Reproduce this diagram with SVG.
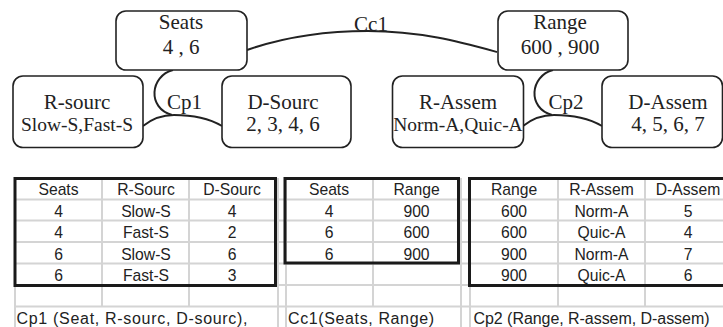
<svg xmlns="http://www.w3.org/2000/svg" width="723" height="327" viewBox="0 0 723 327">
<style>
.box{fill:#fff;stroke:#222;stroke-width:1.6}
.nt{font-family:"Liberation Serif","Times New Roman",serif;font-size:21px;fill:#222;text-anchor:middle}
.ns{font-size:19.5px}
.conn{fill:none;stroke:#222;stroke-width:2}
.grid{stroke:#d4d4d4;stroke-width:2;fill:none}
.bord{stroke:#1a1a1a;stroke-width:3;fill:none}
.tt{font-family:"Liberation Sans",Arial,sans-serif;font-size:15.7px;fill:#222;text-anchor:middle}
.tl{font-family:"Liberation Sans",Arial,sans-serif;font-size:16px;fill:#222}
</style>
<rect x="0" y="0" width="723" height="327" fill="#fff"/>
<g id="connectors">
<path class="conn" d="M247,50 C290,35 335,31 368,31 C420,31 460,42 497,52"/>
<path class="conn" d="M173,70 C150,76 147,108 172,115"/>
<path class="conn" d="M143,126 C153,118 163,115 174,115 C195,115 210,119 222,126"/>
<path class="conn" d="M553,70 C530,76 527,108 552,115"/>
<path class="conn" d="M523,126 C533,118 543,115 554,115 C575,115 590,119 602,126"/>
<text class="nt" x="371" y="31">Cc1</text>
<text class="nt" x="184.5" y="109">Cp1</text>
<text class="nt" x="566" y="109">Cp2</text>
</g>
<g id="node-seats">
<rect class="box" x="116" y="11" width="131" height="59" rx="10"/>
<text class="nt" x="181" y="29">Seats</text>
<text class="nt" x="181" y="54">4 , 6</text>
</g>
<g id="node-range">
<rect class="box" x="498" y="11" width="130" height="59" rx="10"/>
<text class="nt" x="560" y="29">Range</text>
<text class="nt" x="560" y="54">600 , 900</text>
</g>
<g id="node-rsourc">
<rect class="box" x="13" y="76" width="130" height="71.5" rx="10"/>
<text class="nt" x="77" y="109">R-sourc</text>
<text class="nt ns" x="77" y="131">Slow-S,Fast-S</text>
</g>
<g id="node-dsourc">
<rect class="box" x="222" y="76" width="129" height="71.5" rx="10"/>
<text class="nt" x="283" y="109">D-Sourc</text>
<text class="nt" x="283" y="131">2, 3, 4, 6</text>
</g>
<g id="node-rassem">
<rect class="box" x="392.5" y="76" width="131" height="71.5" rx="10"/>
<text class="nt" x="458" y="109">R-Assem</text>
<text class="nt ns" x="458" y="131">Norm-A,Quic-A</text>
</g>
<g id="node-dassem">
<rect class="box" x="602" y="76" width="120.5" height="71.5" rx="10"/>
<text class="nt" x="668" y="109">D-Assem</text>
<text class="nt" x="668" y="131">4, 5, 6, 7</text>
</g>
<g id="tables">
<g class="grid">
<path d="M15,199.5H723M15,220.5H723M15,242H723M15,263.5H723M15,285H723M15,306.5H723"/>
<path d="M15,178V327M278,178V327M286,178V327M461,178V327M470,178V327"/>
<path d="M102,178V307M189,178V307M373,178V307M558,178V307M645,178V307"/>
</g>
<rect class="bord" x="15" y="178.5" width="260.5" height="107"/>
<rect class="bord" x="285" y="178.5" width="173.5" height="84.5"/>
<path class="bord" d="M726,178.5H469.5V285.5H726"/>
<g class="tt">
<text x="58.5" y="195">Seats</text><text x="146" y="195">R-Sourc</text><text x="232" y="195">D-Sourc</text>
<text x="58.5" y="216.5">4</text><text x="146" y="216.5">Slow-S</text><text x="232" y="216.5">4</text>
<text x="58.5" y="238">4</text><text x="146" y="238">Fast-S</text><text x="232" y="238">2</text>
<text x="58.5" y="259.5">6</text><text x="146" y="259.5">Slow-S</text><text x="232" y="259.5">6</text>
<text x="58.5" y="281">6</text><text x="146" y="281">Fast-S</text><text x="232" y="281">3</text>
<text x="329" y="195">Seats</text><text x="416.5" y="195">Range</text>
<text x="329" y="216.5">4</text><text x="416.5" y="216.5">900</text>
<text x="329" y="238">6</text><text x="416.5" y="238">600</text>
<text x="329" y="259.5">6</text><text x="416.5" y="259.5">900</text>
<text x="514" y="195">Range</text><text x="601.5" y="195">R-Assem</text><text x="688" y="195">D-Assem</text>
<text x="514" y="216.5">600</text><text x="601.5" y="216.5">Norm-A</text><text x="688" y="216.5">5</text>
<text x="514" y="238">600</text><text x="601.5" y="238">Quic-A</text><text x="688" y="238">4</text>
<text x="514" y="259.5">900</text><text x="601.5" y="259.5">Norm-A</text><text x="688" y="259.5">7</text>
<text x="514" y="281">900</text><text x="601.5" y="281">Quic-A</text><text x="688" y="281">6</text>
</g>
<text class="tl" x="16.5" y="324" textLength="231" lengthAdjust="spacing">Cp1 (Seat, R-sourc, D-sourc),</text>
<text class="tl" x="288" y="324" textLength="146" lengthAdjust="spacing">Cc1(Seats, Range)</text>
<text class="tl" x="473.5" y="324" textLength="236" lengthAdjust="spacing">Cp2 (Range, R-assem, D-assem)</text>
</g>
</svg>
